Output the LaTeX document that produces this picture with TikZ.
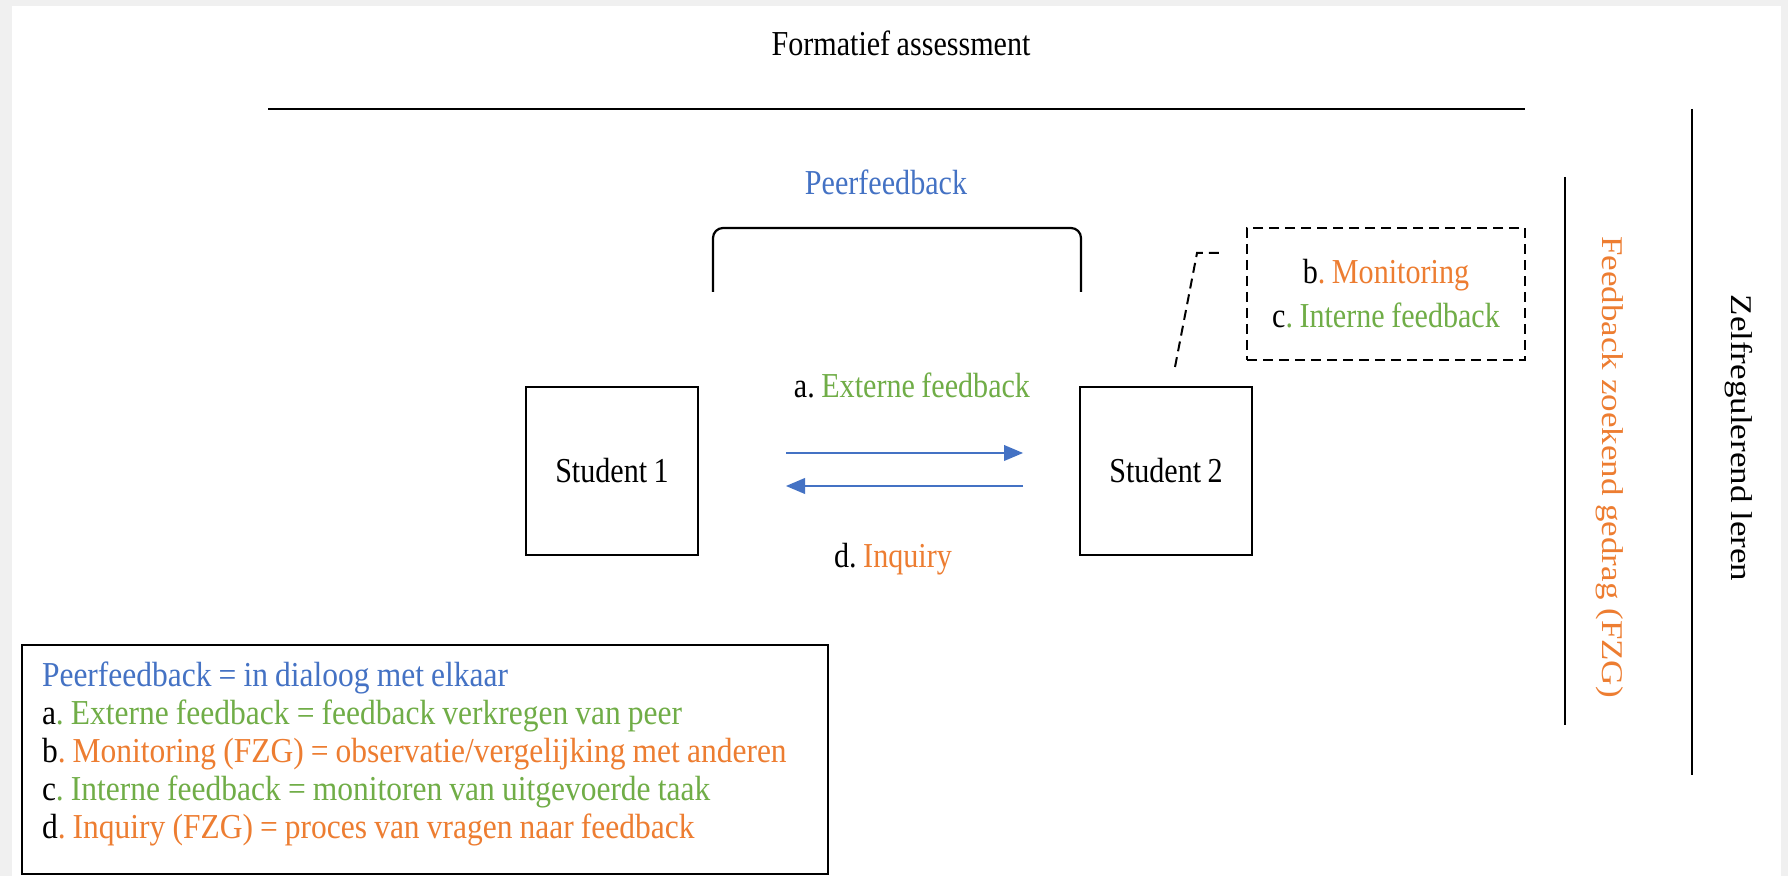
\documentclass[tikz,border=0pt]{standalone}
\usepackage{fontspec}
\setmainfont{Liberation Serif}[FakeStretch=0.86,WordSpace=0.86]
\newfontfamily\tallfont{Liberation Serif}
\newfontfamily\keyfont{Liberation Serif}[FakeStretch=0.9,WordSpace=0.9]
\usepackage{graphicx}
\usetikzlibrary{arrows}
\definecolor{fbblue}{HTML}{4472C4}
\definecolor{fbgreen}{HTML}{70AD47}
\definecolor{fborange}{HTML}{ED7D31}
\frenchspacing

\begin{document}
\begin{tikzpicture}[x=0.5pt,y=-0.5pt,>=triangle 45,
                    font=\fontsize{17.5}{19}\selectfont,
                    student/.style={draw,line width=1pt,minimum width=86pt,minimum height=84pt},
                    flow/.style={->,fbblue,line width=1.2pt},
                    bar/.style={line width=1.1pt},
                    dashes/.style={line width=1pt,dash pattern=on 5pt off 3pt},
                    dashbox/.style={draw,dashes,align=center,minimum width=139pt,minimum height=66pt},
                    sidelabel/.style={rotate=-90,font=\tallfont\fontsize{17.5}{19}\selectfont}]

	% page frame
	\fill[gray!12] (0,0) rectangle (1788,876);
	\fill[white] (12,6) rectangle (1781,876);

	% outer levels
	\node (FA) at (901,43) {Formatief assessment};
	\coordinate (faL) at (268,109);
	\coordinate (faR) at (1525,109);
	\draw[bar] (faL) -- (faR);

	\coordinate (zrT) at (1692,109);
	\coordinate (zrB) at (1692,775);
	\draw[bar] (zrT) -- (zrB);
	\node[sidelabel] (ZR) at (1739,438) {\scalebox{1}[0.86]{Zelfregulerend leren}};

	\coordinate (fzT) at (1565,177);
	\coordinate (fzB) at (1565,725);
	\draw[bar] (fzT) -- (fzB);
	\node[sidelabel,text=fborange] (FZ) at (1610,467) {\scalebox{1}[0.86]{Feedback zoekend gedrag (FZG)}};

	% peerfeedback
	\node[text=fbblue] (PF) at (886,182) {Peerfeedback};
	\coordinate (pfL) at (713,292);
	\coordinate (pfR) at (1081,292);
	\draw[bar,rounded corners=5pt] (pfL) -- (713,228) -- (1081,228) -- (pfR);

	\node[student] (S1) at (612,471) {Student 1};
	\node[student] (S2) at (1166,471) {Student 2};

	\draw[flow] ([xshift=43.5pt,yshift=9pt]S1.east) -- ([xshift=-28pt,yshift=9pt]S2.west);
	\draw[flow] ([xshift=-28pt,yshift=-7.5pt]S2.west) -- ([xshift=43.5pt,yshift=-7.5pt]S1.east);

	\node (EX) at (912,385) {a. \textcolor{fbgreen}{Externe feedback}};
	\node (IQ) at (893,559) {d. \textcolor{fborange}{Inquiry}};

	% student 2 for itself
	\node[dashbox] (BC) at (1386,294) {b\textcolor{fborange}{. Monitoring}\\[3pt]
	                                   c\textcolor{fbgreen}{. Interne feedback}};
	\draw[dashes] ([shift={(4.5pt,9.5pt)}]S2.north) -- ([shift={(-24.5pt,20.5pt)}]BC.west)
	              -- ([shift={(-11.5pt,20.5pt)}]BC.west);

	% legend
	\node[draw,line width=1pt,anchor=north west,align=flush left,text width=383pt,
	      inner xsep=10pt,inner ysep=8.4pt,font=\keyfont\fontsize{17.5}{19}\selectfont] (LG) at (21,644)
	  {\textcolor{fbblue}{Peerfeedback = in dialoog met elkaar}\\
	   a\textcolor{fbgreen}{. Externe feedback = feedback verkregen van peer}\\
	   b\textcolor{fborange}{. Monitoring (FZG) = observatie/vergelijking met anderen}\\
	   c\textcolor{fbgreen}{. Interne feedback = monitoren van uitgevoerde taak}\\
	   d\textcolor{fborange}{. Inquiry (FZG) = proces van vragen naar feedback}\rule[-9.35pt]{0pt}{0pt}};

\end{tikzpicture}
\end{document}
